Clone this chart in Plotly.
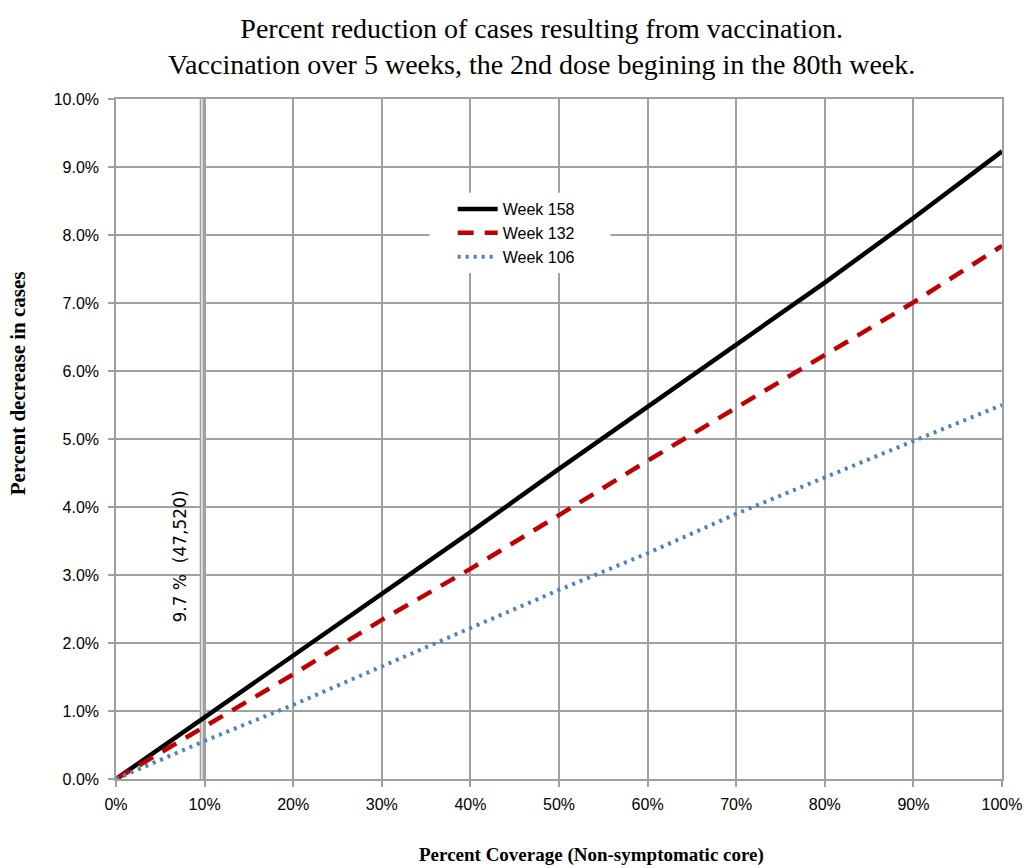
import plotly.graph_objects as go

# coverage in percent
coverage = [0, 10, 20, 30, 40, 50, 60, 70, 80, 90, 100]

# percent decrease in cases
week_158 = [0, 0.91, 1.80, 2.72, 3.63, 4.56, 5.47, 6.38, 7.30, 8.25, 9.23]
week_132 = [0, 0.77, 1.54, 2.34, 3.09, 3.88, 4.68, 5.46, 6.24, 7.01, 7.84]
week_106 = [0, 0.56, 1.09, 1.66, 2.22, 2.78, 3.32, 3.90, 4.44, 4.97, 5.50]

marker_coverage = 9.7
marker_label = '9.7 %  (47,520)'

x_ticks = list(range(0, 101, 10))
y_ticks = [float(i) for i in range(0, 11)]

SERIF = 'Liberation Serif'
SANS = 'Liberation Sans'
GRID = '#A0A0A0'

fig = go.Figure()

series = [
    ('Week 158', week_158, dict(color='black', width=4.5, dash='solid')),
    ('Week 132', week_132, dict(color='#C00000', width=4.5, dash='16px,11px')),
    ('Week 106', week_106, dict(color='#4F81BD', width=4, dash='3px,5px')),
]
for name, vals, line in series:
    fig.add_trace(go.Scatter(
        x=coverage, y=vals, mode='lines', name=name, line=line,
    ))

# double vertical line at the marked coverage
fig.add_shape(type='line', xref='x', yref='y',
              x0=marker_coverage, x1=marker_coverage, y0=-0.15, y1=10,
              line=dict(color=GRID, width=4.5), layer='between')
fig.add_shape(type='line', xref='x', yref='y',
              x0=marker_coverage, x1=marker_coverage, y0=-0.15, y1=10,
              line=dict(color='white', width=1.2), layer='between')

# white box behind the legend (hides the grid there)
fig.add_shape(type='rect', xref='x', yref='y',
              x0=35.4, x1=55.8, y0=7.44, y1=8.62,
              line=dict(width=0), fillcolor='white', layer='between')

fig.add_annotation(
    x=marker_coverage, y=3.27, xref='x', yref='y',
    text=marker_label, textangle=-90, showarrow=False,
    xshift=-22, font=dict(family='DejaVu Sans', size=17, color='black'),
)

# chart title
fig.add_annotation(
    x=0.48, y=1, xref='paper', yref='paper',
    xanchor='center', yanchor='middle', yshift=53, showarrow=False,
    text='Percent reduction of cases resulting from vaccination.<br>'
         'Vaccination over 5 weeks, the 2nd dose begining in the 80th week.',
    font=dict(family=SERIF, size=28, color='black'),
)
# axis titles
fig.add_annotation(
    x=0.537, y=0, xref='paper', yref='paper',
    xanchor='center', yanchor='middle', yshift=-76, showarrow=False,
    text='<b>Percent Coverage (Non-symptomatic core)</b>',
    font=dict(family=SERIF, size=19, color='black'),
)
fig.add_annotation(
    x=0, y=0.582, xref='paper', yref='paper',
    xanchor='center', yanchor='middle', xshift=-98, showarrow=False,
    textangle=-90,
    text='<b>Percent decrease in cases</b>',
    font=dict(family=SERIF, size=21, color='black'),
)

fig.update_layout(
    width=1024, height=868, autosize=False,
    paper_bgcolor='white', plot_bgcolor='white',
    margin=dict(l=116, r=22, t=99, b=89),
    legend=dict(
        x=0.38, y=0.863, xanchor='left', yanchor='top',
        bgcolor='rgba(0,0,0,0)', font=dict(family=SANS, size=16, color='black'),
        tracegroupgap=0, itemwidth=40,
    ),
    showlegend=True,
)

fig.update_xaxes(
    range=[0, 100], tickvals=x_ticks, ticktext=[f'{v}%' for v in x_ticks],
    showgrid=True, gridcolor=GRID, gridwidth=1.5,
    showline=True, linecolor=GRID, linewidth=1.5, mirror=True,
    ticks='outside', ticklen=6, tickcolor=GRID, tickwidth=1.5,
    ticklabelstandoff=4, zeroline=False, automargin=False,
    tickfont=dict(family=SANS, size=16, color='black'),
)
fig.update_yaxes(
    range=[0, 10], tickvals=y_ticks, ticktext=[f'{v:.1f}%' for v in y_ticks],
    showgrid=True, gridcolor=GRID, gridwidth=1.5,
    showline=True, linecolor=GRID, linewidth=1.5, mirror=True,
    ticks='outside', ticklen=6, tickcolor=GRID, tickwidth=1.5,
    ticklabelstandoff=6, zeroline=False, automargin=False,
    tickfont=dict(family=SANS, size=16, color='black'),
)

# drop the default page margin so the figure fills the window
fig.write_html(
    'out.html',
    config={'responsive': False, 'displayModeBar': False},
    post_script="document.body.style.margin='0';",
)
